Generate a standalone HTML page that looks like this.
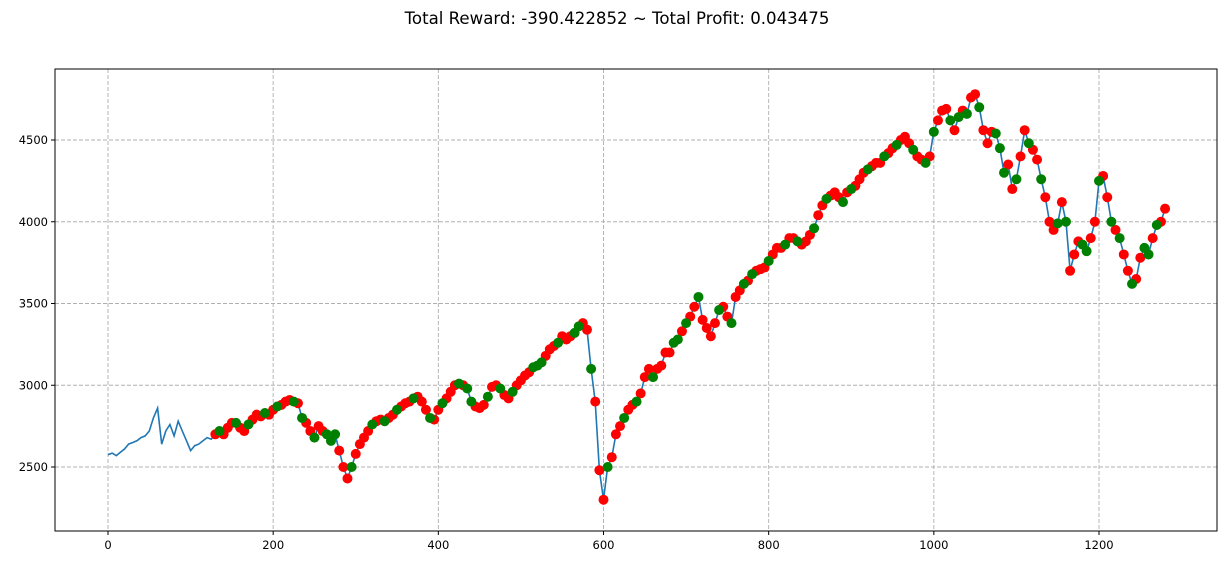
<!DOCTYPE html>
<html><head><meta charset="utf-8"><style>
body{margin:0;background:#fff;}
svg{display:block;font-family:"DejaVu Sans","Liberation Sans",sans-serif;}
</style></head><body>
<svg id="c" width="1227" height="565">
<text x="617" y="24" text-anchor="middle" font-size="16.6" fill="#000">Total Reward: -390.422852 ~ Total Profit: 0.043475</text>
<g id="grid"></g><g id="plot"></g><g id="axes"></g>
</svg>
<script>
const xStart = 0, xStep = 5;
const prices = [2575,2585,2570,2590,2610,2640,2650,2660,2680,2690,2720,2800,2860,2640,2720,2760,2690,2780,2720,2660,2600,2630,2640,2660,2680,2670,
2700,2720,2700,2740,2770,2770,2740,2720,2760,2790,2820,2810,2830,2820,2850,2870,2880,2900,2910,2900,2890,2800,2770,2720,2680,2750,2720,2700,2660,2700,2600,2500,2430,2500,2580,2640,2680,2720,2760,2780,2790,2780,2800,2820,2850,2870,2890,2900,2920,2930,2900,2850,2800,2790,2850,2890,2920,2960,3000,3010,3000,2980,2900,2870,2860,2880,2930,2990,3000,2980,2940,2920,2960,3000,3030,3060,3080,3110,3120,3140,3180,3220,3240,3260,3300,3280,3300,3320,3360,3380,3340,3100,2900,2480,2300,2500,2560,2700,2750,2800,2850,2880,2900,2950,3050,3100,3050,3100,3120,3200,3200,3260,3280,3330,3380,3420,3480,3540,3400,3350,3300,3380,3460,3480,3420,3380,3540,3580,3620,3640,3680,3700,3710,3720,3760,3800,3840,3840,3860,3900,3900,3880,3860,3880,3920,3960,4040,4100,4140,4160,4180,4150,4120,4180,4200,4220,4260,4300,4320,4340,4360,4360,4400,4420,4450,4470,4500,4520,4480,4440,4400,4380,4360,4400,4550,4620,4680,4690,4620,4560,4640,4680,4660,4760,4780,4700,4560,4480,4550,4540,4450,4300,4350,4200,4260,4400,4560,4480,4440,4380,4260,4150,4000,3950,3990,4120,4000,3700,3800,3880,3860,3820,3900,4000,4250,4280,4150,4000,3950,3900,3800,3700,3620,3650,3780,3840,3800,3900,3980,4000,4080];
const markStart = 26;
const actions = "rgrrrgrrgrrrgrrgrrrgrgrrgrrgggrrrgrrrrgrrgrrgrrrgrrrgrrgrrrgrggrrrgrrgrrgrrrrgggrrrgrrrggrrgrrrgrrrgrrgrrrgrrrrggrgrrgrrrrgrrgrrgrgrrrgrrrgrrgrrrgrrgrrrgrgrrrgrrrgrrgrrrgrrgrgrrrgrgrgrrgrrrgggrrgrrgrrgrrrgrgrrrggrrgrrgrgrrgrrggrgrrrgrrgrgrr";
const xTicks = [0,200,400,600,800,1000,1200];
const yTicks = [2500,3000,3500,4000,4500];
const L=55,R=1217,T=69,B=531;
const X=v=>108+(v-0)*(1099-108)/1200;
const Y=v=>467-(v-2500)*(467-140)/2000;
const NS="http://www.w3.org/2000/svg";
function mk(t,a,p){const e=document.createElementNS(NS,t);for(const k in a)e.setAttribute(k,a[k]);p.appendChild(e);return e;}
const grid=document.getElementById('grid'),plot=document.getElementById('plot'),axes=document.getElementById('axes');
xTicks.forEach(t=>{const x=X(t);
 const g=mk('line',{x1:x,x2:x,y1:T,y2:B,stroke:'#b0b0b0','stroke-dasharray':'4,2','stroke-width':0.9},grid);
 
 
 mk('line',{x1:x,x2:x,y1:B,y2:B+4,stroke:'#000'},axes);
 const tx=mk('text',{x:x,y:B+18,'text-anchor':'middle','font-size':11.5},axes);tx.textContent=t;
 
 
});
yTicks.forEach(t=>{const y=Y(t);
 const g=mk('line',{x1:L,x2:R,y1:y,y2:y,stroke:'#b0b0b0','stroke-dasharray':'4,2','stroke-width':0.9},grid);
 
 
 mk('line',{x1:L-4,x2:L,y1:y,y2:y,stroke:'#000'},axes);
 const tx=mk('text',{x:L-7,y:y+4,'text-anchor':'end','font-size':11.5},axes);tx.textContent=t;
 
 
});
const fr=mk('rect',{x:L,y:T,width:R-L,height:B-T,fill:'none',stroke:'#000','stroke-width':1},axes);


const pts=prices.map((v,i)=>X(xStart+i*xStep).toFixed(1)+','+Y(v).toFixed(1)).join(' ');
const ln=mk('polyline',{points:pts,fill:'none',stroke:'#1f77b4','stroke-width':1.6},plot);


['r','g'].forEach(c=>{
 for(let i=markStart;i<prices.length;i++){
  if(actions[(i-markStart)%actions.length]!==c)continue;
  const m=mk('circle',{cx:X(xStart+i*xStep),cy:Y(prices[i]),r:5,fill:c==='r'?'#ff0000':'#008000'},plot);
  
  
 }
});
</script>
</body></html>
